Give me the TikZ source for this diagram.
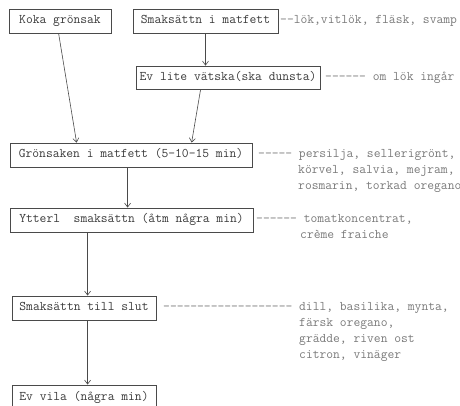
\documentclass[tikz,border=0pt]{standalone}
\usepackage{fontspec}
\usetikzlibrary{arrows.meta,calc}
\definecolor{ink}{HTML}{3A3A3A}
\definecolor{faint}{HTML}{7A7A7A}
\definecolor{rule}{HTML}{4A4A4A}
\tikzset{
  box/.style={draw=rule, line width=0.8pt, rectangle, inner sep=0pt,
    font=\ttfamily\fontsize{13.2}{15}\selectfont, text=ink,
    text height=8pt, text depth=2.5pt},
  note/.style={anchor=west, inner sep=0pt, text=faint,
    font=\ttfamily\fontsize{13.2}{15}\selectfont,
    text height=8pt, text depth=2.5pt},
  flow/.style={draw=rule, line width=0.6pt, -{Straight Barb[length=4pt,width=6pt]}}
}
\begin{document}
\begin{tikzpicture}[x=1pt,y=-1pt]
\useasboundingbox (0,0) rectangle (460,405);
% boxes
\node[box, minimum width=102pt, minimum height=24pt] (koka) at (60,21) {Koka grönsak};
\node[box, minimum width=145pt, minimum height=24pt] (smak) at (205.5,21) {Smaksättn i matfett};
\node[box, minimum width=184pt, minimum height=23pt] (evlite) at (228,77.5) {Ev lite vätska(ska dunsta)};
\node[box, minimum width=242pt, minimum height=24pt] (gron) at (131,155) {Grönsaken i matfett (5-10-15 min)};
\node[box, minimum width=243pt, minimum height=24pt] (ytter) at (131.5,220) {Ytterl~~smaksättn (åtm några min)};
\node[box, minimum width=144pt, minimum height=24pt] (slut) at (84,308) {Smaksättn till slut};
\node[box, minimum width=144pt, minimum height=26pt] (vila) at (84,398) {Ev vila (några min)};
% notes
\node[note] (n1) at (280,21) {-{}-lök,vitlök, fläsk, svamp};
\node[note] (n2) at (325,77.5) {-{}-{}-{}-{}-{}- om lök ingår};
\node[note] (n3) at (258,155) {-{}-{}-{}-{}- persilja, sellerigrönt,};
\node[note] (n4) at (298,171) {körvel, salvia, mejram,};
\node[note] (n5) at (298,187) {rosmarin, torkad oregano};
\node[note] (n6) at (256,220) {-{}-{}-{}-{}-{}- tomatkoncentrat,};
\node[note] (n7) at (300,236) {crème fraiche};
\node[note] (n8) at (163,308) {-{}-{}-{}-{}-{}-{}-{}-{}-{}-{}-{}-{}-{}-{}-{}-{}-{}-{}- dill, basilika, mynta,};
\node[note] (n9) at (299,324) {färsk oregano,};
\node[note] (n10) at (299,340) {grädde, riven ost};
\node[note] (n11) at (299,356) {citron, vinäger};
% connectors
\coordinate (kokaout) at ($(koka.south west)+(50,0)$);
\coordinate (gronin1) at ($(gron.north west)+(67,0)$);
\coordinate (eviout) at ($(evlite.south west)+(65,0)$);
\coordinate (gronin2) at ($(gron.north west)+(182,0)$);
\coordinate (gronout) at ($(gron.south west)+(118,0)$);
\coordinate (ytterout) at ($(ytter.south west)+(78,0)$);
\coordinate (slutout) at ($(slut.south west)+(76,0)$);
\draw[flow] (kokaout) -- (gronin1);
\draw[flow] (smak.south) -- (smak.south |- evlite.north);
\draw[flow] (eviout) -- (gronin2);
\draw[flow] (gronout) -- (gronout |- ytter.north);
\draw[flow] (ytterout) -- (ytterout |- slut.north);
\draw[flow] (slutout) -- (slutout |- vila.north);
\end{tikzpicture}
\end{document}
